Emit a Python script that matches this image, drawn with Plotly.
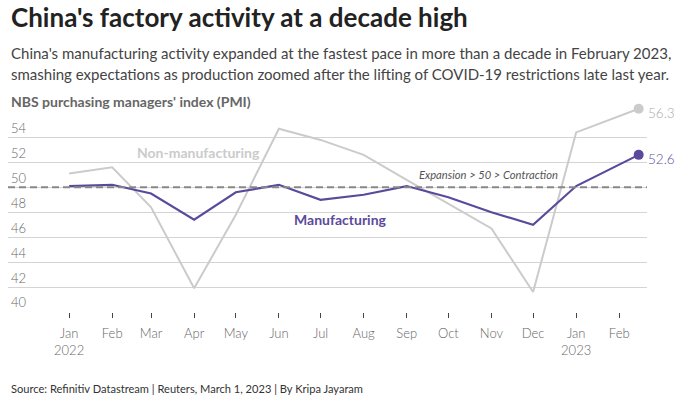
import plotly.graph_objects as go

# ---- data ----
dates = ["2022-01-01", "2022-02-01", "2022-03-01", "2022-04-01", "2022-05-01",
         "2022-06-01", "2022-07-01", "2022-08-01", "2022-09-01", "2022-10-01",
         "2022-11-01", "2022-12-01", "2023-01-01", "2023-02-15"]
manufacturing = [50.1, 50.2, 49.5, 47.4, 49.6, 50.2, 49.0, 49.4, 50.1, 49.2, 48.0, 47.0, 50.1, 52.6]
non_manufacturing = [51.1, 51.6, 48.4, 41.9, 47.8, 54.7, 53.8, 52.6, 50.6, 48.7, 46.7, 41.6, 54.4, 56.3]

tick_dates = ["2022-01-01", "2022-02-01", "2022-03-01", "2022-04-01", "2022-05-01",
              "2022-06-01", "2022-07-01", "2022-08-01", "2022-09-01", "2022-10-01",
              "2022-11-01", "2022-12-01", "2023-01-01", "2023-02-01"]
tick_labels = ["Jan<br>2022", "Feb", "Mar", "Apr", "May", "Jun", "Jul", "Aug",
               "Sep", "Oct", "Nov", "Dec", "Jan<br>2023", "Feb"]
y_ticks = [40, 42, 44, 46, 48, 50, 52, 54]
threshold = 50

PURPLE = "#5b4a9b"
LGRAY = "#cbcbcb"
FONT = "Lato"
LIGHT = "Lato Light, Lato"

W, H = 680, 399
L, R, T, B = 8, 33, 100, 87
pw, ph = W - L - R, H - T - B


def px(x):
    return (x - L) / pw


def py(y):
    return (H - B - y) / ph


fig = go.Figure()
fig.add_trace(go.Scatter(x=dates, y=non_manufacturing, mode="lines",
                         line=dict(color=LGRAY, width=2), hoverinfo="skip"))
fig.add_trace(go.Scatter(x=dates, y=manufacturing, mode="lines",
                         line=dict(color=PURPLE, width=2.2), hoverinfo="skip"))
fig.add_trace(go.Scatter(x=[dates[-1]], y=[non_manufacturing[-1]], mode="markers",
                         marker=dict(color=LGRAY, size=10), cliponaxis=False))
fig.add_trace(go.Scatter(x=[dates[-1]], y=[manufacturing[-1]], mode="markers",
                         marker=dict(color=PURPLE, size=10), cliponaxis=False))

fig.add_shape(type="line", xref="paper", x0=0, x1=1, yref="y", y0=threshold, y1=threshold,
              line=dict(color="#888888", width=2, dash="7px,4px"), layer="above")

ann = []
ann.append(dict(text="<b>China's factory activity at a decade high</b>", x=px(9), y=py(17),
                xref="paper", yref="paper", xanchor="left", yanchor="middle", showarrow=False,
                font=dict(family=FONT, size=26, color="#222222")))
ann.append(dict(text="China's manufacturing activity expanded at the fastest pace in more than a decade in February 2023,",
                x=px(9), y=py(53), xref="paper", yref="paper", xanchor="left", yanchor="middle",
                showarrow=False, font=dict(family=FONT, size=15, color="#444444")))
ann.append(dict(text="smashing expectations as production zoomed after the lifting of COVID-19 restrictions late last year.",
                x=px(9), y=py(74), xref="paper", yref="paper", xanchor="left", yanchor="middle",
                showarrow=False, font=dict(family=FONT, size=15, color="#444444")))
ann.append(dict(text="<b>NBS purchasing managers' index (PMI)</b>", x=px(9), y=py(101),
                xref="paper", yref="paper", xanchor="left", yanchor="middle", showarrow=False,
                font=dict(family=FONT, size=14, color="#666666")))
ann.append(dict(text="Source: Refinitiv Datastream | Reuters, March 1, 2023 | By Kripa Jayaram",
                x=px(9), y=py(388), xref="paper", yref="paper", xanchor="left", yanchor="middle",
                showarrow=False, font=dict(family=FONT, size=11.1, color="#333333")))
ann.append(dict(text="<b>Non-manufacturing</b>", x="2022-04-04", y=52.8, xref="x", yref="y",
                showarrow=False, font=dict(family=FONT, size=14, color=LGRAY)))
ann.append(dict(text="<b>Manufacturing</b>", x="2022-07-15", y=47.4, xref="x", yref="y",
                showarrow=False, font=dict(family=FONT, size=14, color=PURPLE)))
ann.append(dict(text="<i>Expansion > 50 > Contraction</i>", x="2022-10-30", y=51.0, xref="x", yref="y",
                showarrow=False, font=dict(family=FONT, size=11.2, color="#555555")))
ann.append(dict(text=f"{non_manufacturing[-1]:.1f}", x=dates[-1], y=non_manufacturing[-1], xref="x", yref="y",
                xanchor="left", yanchor="middle", xshift=7, yshift=-4, showarrow=False,
                font=dict(family=LIGHT, size=13.5, color="#aaaaaa")))
ann.append(dict(text=f"{manufacturing[-1]:.1f}", x=dates[-1], y=manufacturing[-1], xref="x", yref="y",
                xanchor="left", yanchor="middle", xshift=7, yshift=-4, showarrow=False,
                font=dict(family=LIGHT, size=13.5, color=PURPLE)))

fig.update_layout(
    width=W, height=H, margin=dict(l=L, r=R, t=T, b=B),
    paper_bgcolor="white", plot_bgcolor="white", showlegend=False,
    annotations=ann,
    font=dict(family=FONT, color="#666666"),
    xaxis=dict(type="date", range=["2021-11-18", "2023-02-21"], tickvals=tick_dates,
               ticktext=tick_labels, showgrid=False, zeroline=False, showline=False,
               ticks="outside", ticklen=5, tickwidth=1, tickcolor="#444444",
               ticklabelstandoff=4,
               tickfont=dict(family=LIGHT, size=13, color="#666666"), fixedrange=True),
    yaxis=dict(range=[40, 57], tickvals=y_ticks, showgrid=True, gridcolor="#d4d4d4",
               gridwidth=1, zeroline=False, showline=False, ticks="",
               ticklabelposition="inside top",
               tickfont=dict(family=LIGHT, size=13, color="#666666"), fixedrange=True),
)

fig.write_html("out.html", config={"displayModeBar": False},
               post_script="document.body.style.margin='0px';document.body.style.overflow='hidden';")
